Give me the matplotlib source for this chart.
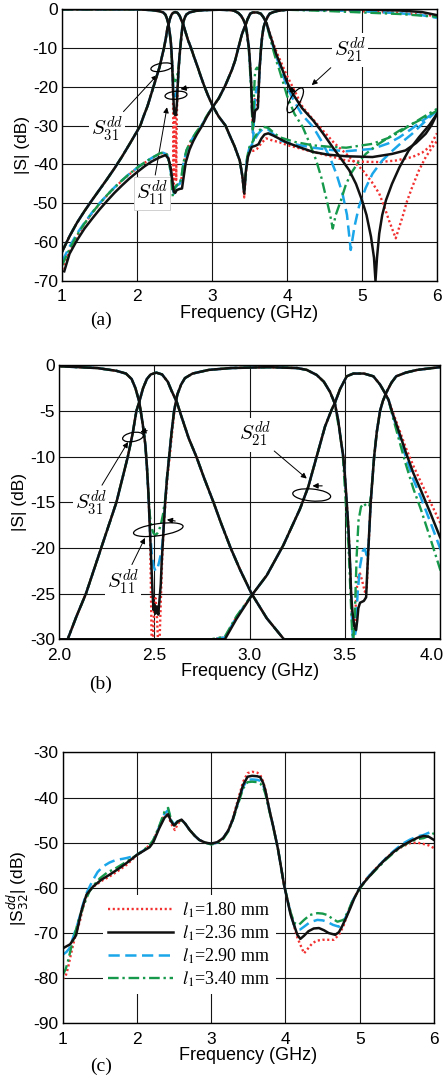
"""Balanced diplexer S-parameters for four l1 values: (a) wideband, (b) zoom, (c) |S32|."""
import numpy as np
import matplotlib
matplotlib.use("Agg")
import matplotlib.pyplot as plt
from matplotlib.patches import Ellipse
from matplotlib.transforms import ScaledTranslation

plt.rcParams["font.family"] = ["Liberation Sans", "DejaVu Sans"]
plt.rcParams["mathtext.fontset"] = "cm"
plt.rcParams["axes.unicode_minus"] = False

# --- |S11| pieces (GHz, dB) ---
s11_start = [(1.0, -0.1), (1.5, -0.1), (2.0, -0.1), (2.2, -0.3), (2.3, -0.6), (2.35, -0.9),
             (2.38, -1.5), (2.4, -2.5), (2.42, -4.0), (2.438, -6.4), (2.452, -8.7), (2.46, -11)]
s11_notch1_red = [(2.468, -14), (2.476, -18), (2.481, -24), (2.485, -33), (2.488, -45), (2.492, -34),
                  (2.498, -27), (2.505, -25.5), (2.512, -27), (2.518, -33), (2.523, -44), (2.527, -33),
                  (2.533, -26), (2.54, -21.5), (2.549, -17.5), (2.558, -15), (2.568, -12.3),
                  (2.58, -10), (2.593, -7.3), (2.605, -5)]
s11_notch1_black = [(2.468, -14), (2.476, -18), (2.483, -21.5), (2.49, -25), (2.495, -26.8),
                    (2.5, -26.2), (2.505, -27.2), (2.512, -26.4), (2.52, -27.3), (2.527, -25.5),
                    (2.533, -24), (2.538, -21.5), (2.542, -20), (2.549, -17.5), (2.556, -15),
                    (2.566, -12.3), (2.577, -10), (2.59, -7.3), (2.603, -5)]
s11_notch1_blue = [(2.468, -14), (2.476, -18), (2.485, -20.5), (2.495, -22), (2.505, -22.5),
                   (2.515, -22.3), (2.525, -21.5), (2.535, -20.5), (2.542, -19.5), (2.549, -17.5),
                   (2.556, -15), (2.566, -12.3), (2.577, -10), (2.59, -7.3), (2.603, -5)]
s11_notch1_green = [(2.468, -14), (2.476, -16.5), (2.485, -17.8), (2.495, -18.4), (2.505, -18.6),
                    (2.515, -18.4), (2.525, -18), (2.535, -17.3), (2.545, -16.3), (2.552, -15.2),
                    (2.558, -14.5), (2.566, -12.3), (2.577, -10), (2.59, -7.3), (2.603, -5)]
s11_mid = [(2.62, -3.2), (2.64, -2.1), (2.66, -1.4), (2.7, -0.9), (2.785, -0.5), (2.9, -0.3),
           (3.1, -0.2), (3.25, -0.3), (3.3, -0.5), (3.352, -1.05), (3.39, -1.8), (3.422, -2.9),
           (3.448, -4.2)]
s11_notch2_red = [(3.465, -6), (3.48, -8.3), (3.492, -10), (3.502, -12.5), (3.51, -15), (3.518, -17.5),
                  (3.524, -20), (3.533, -25), (3.54, -29), (3.545, -32), (3.552, -29), (3.56, -25),
                  (3.57, -23.2), (3.58, -22.8), (3.59, -23.5), (3.605, -24.8), (3.615, -24.5),
                  (3.622, -21), (3.63, -17.5), (3.64, -14), (3.65, -11), (3.66, -9)]
s11_notch2_black = [(3.465, -6), (3.48, -8.3), (3.492, -10), (3.502, -12.5), (3.51, -15),
                    (3.518, -17.5), (3.524, -20), (3.529, -22.5), (3.533, -25), (3.54, -27),
                    (3.55, -28.6), (3.559, -29), (3.565, -28), (3.571, -26.6), (3.58, -26),
                    (3.6, -25.8), (3.612, -25.4), (3.617, -23), (3.624, -20), (3.63, -17.5),
                    (3.636, -15), (3.645, -12.5), (3.654, -10)]
s11_notch2_blue = [(3.465, -6), (3.48, -8.3), (3.492, -10), (3.51, -15), (3.524, -20), (3.533, -25),
                   (3.542, -30), (3.55, -34), (3.558, -29), (3.567, -25), (3.58, -22), (3.595, -20.3),
                   (3.605, -20.1), (3.615, -20.8), (3.624, -20), (3.63, -17.5), (3.636, -15),
                   (3.645, -12.5), (3.654, -10)]
s11_notch2_green = [(3.462, -6), (3.475, -7.5), (3.49, -10), (3.505, -15), (3.52, -20), (3.53, -25),
                    (3.538, -29), (3.545, -31), (3.553, -27), (3.562, -21), (3.572, -17),
                    (3.585, -15.5), (3.6, -15.1), (3.615, -15.5), (3.628, -15.5), (3.636, -14.5),
                    (3.645, -12.5), (3.654, -10)]
s11_end = [(3.668, -7.3), (3.685, -5), (3.7, -3.9), (3.72, -2.9), (3.745, -1.9), (3.77, -1.2),
           (3.82, -0.8), (3.88, -0.5), (4.0, -0.2)]
s11_tail_red = [(4.5, -0.3), (5.0, -0.6), (5.5, -1.0), (6.0, -1.8)]
s11_tail_black = [(4.5, -0.1), (5.0, -0.15), (5.5, -0.4), (5.8, -0.8), (6.0, -1.6)]
s11_tail_blue = [(4.5, -0.3), (5.0, -0.6), (5.5, -1.1), (5.8, -1.6), (6.0, -2.3)]
s11_tail_green = [(4.5, -0.5), (5.0, -0.9), (5.5, -1.3), (6.0, -2.0)]

# --- |S21| pieces ---
s21_low_red = [(1.0, -67), (1.1, -62.3), (1.2, -58.5), (1.3, -55.3), (1.4, -52.6), (1.5, -50.2),
               (1.6, -48), (1.7, -46), (1.8, -44.2), (1.9, -42.5), (2.0, -41), (2.1, -39.6),
               (2.2, -38.4), (2.3, -37.3), (2.35, -37), (2.4, -37.4), (2.43, -39), (2.46, -42.5),
               (2.48, -45.5), (2.495, -46.5), (2.51, -45.5), (2.54, -45.2), (2.57, -45), (2.59, -44),
               (2.62, -40), (2.66, -36.5), (2.72, -34), (2.8, -31.5), (2.87, -29.8), (2.93, -27.6)]
s21_low_black = [(1.03, -67.5), (1.1, -63), (1.2, -59.5), (1.3, -56.5), (1.4, -54), (1.5, -51.6),
                 (1.6, -49.4), (1.7, -47.3), (1.8, -45.4), (1.9, -43.6), (2.0, -42), (2.1, -40.5),
                 (2.2, -39.2), (2.3, -38.2), (2.38, -37.6), (2.42, -38.5), (2.45, -41), (2.47, -44),
                 (2.49, -47), (2.51, -47.3), (2.53, -46.6), (2.57, -46.3), (2.6, -46.2), (2.62, -43.5),
                 (2.65, -39.5), (2.7, -36.2), (2.75, -34), (2.8, -32.2), (2.87, -30), (2.93, -27.8)]
s21_low_blue = [(1.0, -65), (1.1, -61.2), (1.2, -57.8), (1.3, -55), (1.4, -52.4), (1.5, -50),
                (1.6, -47.9), (1.7, -45.9), (1.8, -44.1), (1.9, -42.4), (2.0, -40.9), (2.1, -39.5),
                (2.2, -38.3), (2.3, -37.3), (2.35, -37), (2.4, -37.5), (2.43, -39.5), (2.46, -43),
                (2.48, -46.5), (2.495, -47.5), (2.51, -46), (2.54, -45.3), (2.57, -45), (2.59, -43.8),
                (2.62, -39.8), (2.66, -36.5), (2.72, -34), (2.8, -31.5), (2.87, -29.8), (2.93, -27.6)]
s21_low_green = [(1.0, -66), (1.1, -61.8), (1.2, -58.2), (1.3, -55.2), (1.4, -52.5), (1.5, -50.1),
                 (1.6, -47.9), (1.7, -45.9), (1.8, -44.1), (1.9, -42.4), (2.0, -40.9), (2.1, -39.5),
                 (2.2, -38.3), (2.3, -37.2), (2.35, -36.9), (2.4, -37.5), (2.43, -39.5), (2.46, -44),
                 (2.478, -48.3), (2.49, -47.5), (2.51, -45.8), (2.54, -45.2), (2.57, -45), (2.59, -43.5),
                 (2.62, -39.5), (2.66, -36.3), (2.72, -33.8), (2.8, -31.4), (2.87, -29.7), (2.93, -27.5)]
s21_mid = [(3.014, -25.1), (3.09, -23), (3.177, -19.7), (3.265, -15.7), (3.308, -13.3), (3.352, -10),
           (3.396, -6.7), (3.43, -4.9), (3.448, -4.1), (3.475, -2.6), (3.51, -1.2), (3.545, -0.9),
           (3.6, -0.9), (3.65, -1.2), (3.685, -2.1), (3.71, -3), (3.73, -3.8)]
s21_tail_red = [(3.75, -5.0), (3.78, -6.7), (3.82, -9), (3.86, -11), (3.9, -12.8), (3.95, -15),
                (4.0, -17.2), (4.1, -21), (4.21, -25.3), (4.35, -28.5), (4.48, -31.3), (4.63, -34.5),
                (4.79, -37.3), (5.01, -41.5), (5.13, -44.5), (5.23, -47.5), (5.3, -51), (5.36, -54.4),
                (5.45, -59), (5.54, -53.5), (5.6, -49.5), (5.67, -45.8), (5.76, -41.5), (5.85, -38.1),
                (5.93, -35.8), (6.0, -34)]
s21_tail_black = [(3.75, -5.2), (3.78, -7), (3.82, -9.5), (3.86, -11.8), (3.9, -13.7), (3.95, -16.2),
                  (4.0, -18.8), (4.08, -21.9), (4.2, -25.5), (4.35, -28.7), (4.48, -32), (4.61, -35.6),
                  (4.72, -38.5), (4.83, -41.5), (4.92, -45), (5.0, -49.2), (5.06, -53), (5.12, -58.6),
                  (5.16, -64), (5.18, -70), (5.2, -64), (5.23, -57.8), (5.27, -53), (5.32, -49.2),
                  (5.4, -45), (5.5, -40.7), (5.62, -36.5), (5.76, -33), (5.9, -29.8), (6.0, -27)]
s21_tail_blue = [(3.75, -5.3), (3.78, -7.3), (3.82, -10), (3.86, -12.5), (3.9, -14.5), (3.95, -17.2),
                 (4.0, -20), (4.08, -23.2), (4.2, -27.2), (4.35, -30.4), (4.46, -34), (4.57, -38.1),
                 (4.66, -42.5), (4.74, -47.5), (4.8, -53), (4.85, -62), (4.9, -56), (4.96, -50.8),
                 (5.05, -46), (5.14, -42.4), (5.27, -39), (5.41, -36.4), (5.55, -34), (5.67, -32.1),
                 (5.82, -29.3), (6.0, -26.2)]
s21_tail_green = [(3.75, -5.5), (3.78, -7.8), (3.82, -10.8), (3.86, -13.5), (3.9, -15.8), (3.95, -19),
                  (4.0, -22.3), (4.1, -27), (4.21, -30.4), (4.3, -34.5), (4.39, -39), (4.46, -43.5),
                  (4.52, -48.4), (4.57, -52.5), (4.61, -56.5), (4.65, -53), (4.72, -49.2), (4.78, -45.5),
                  (4.85, -42.4), (4.95, -39.5), (5.05, -37.3), (5.2, -35), (5.36, -33), (5.5, -31.3),
                  (5.67, -29.6), (5.85, -27.8), (6.0, -26.2)]

# --- |S31| pieces ---
s31_low = [(1.0, -62.5), (1.1, -58.5), (1.2, -55), (1.3, -52), (1.4, -49.2), (1.5, -46.5), (1.6, -43.8),
           (1.7, -41), (1.8, -38), (1.9, -34.8), (2.0, -31.5), (2.044, -30), (2.09, -27.5), (2.14, -25),
           (2.18, -22.5), (2.22, -20), (2.26, -17.5), (2.3, -15), (2.33, -12.5), (2.36, -10),
           (2.385, -7.5), (2.405, -5), (2.42, -4), (2.44, -2.5), (2.46, -1.5), (2.48, -1.0), (2.51, -0.8),
           (2.54, -1.0), (2.57, -1.8), (2.59, -2.8), (2.617, -4), (2.64, -5.5), (2.68, -8), (2.72, -10),
           (2.76, -12.3), (2.81, -15), (2.85, -17.3), (2.9, -20), (2.95, -22.4), (3.01, -25),
           (3.09, -27.7), (3.18, -30), (3.24, -32.7), (3.3, -35.3), (3.37, -39), (3.405, -43)]
s31_tail_red = [(3.43, -48.5), (3.45, -43), (3.47, -38.5), (3.5, -36.5), (3.55, -36.5), (3.6, -36),
                (3.66, -34.5), (3.72, -33.3), (3.8, -33.8), (3.9, -34.3), (4.0, -35), (4.35, -36.8),
                (4.6, -38), (4.79, -39), (5.0, -39.3), (5.23, -39.4), (5.45, -39), (5.67, -38.1),
                (5.8, -37), (5.9, -35.5), (6.0, -32)]
s31_tail_black = [(3.43, -47.5), (3.45, -42), (3.48, -38), (3.53, -35.5), (3.58, -35.2), (3.62, -34.8),
                  (3.66, -33.3), (3.7, -32.3), (3.75, -32), (3.82, -32.6), (3.9, -33.4), (4.0, -34.4),
                  (4.2, -35.8), (4.35, -36.8), (4.55, -37.5), (4.79, -37.9), (5.14, -38.1), (5.4, -37.3),
                  (5.58, -36.4), (5.72, -34.5), (5.85, -32.1), (5.93, -29.8), (6.0, -27)]
s31_tail_blue = [(3.43, -47), (3.45, -42), (3.47, -38), (3.5, -35.7), (3.53, -35), (3.57, -33.5),
                 (3.62, -32), (3.68, -30.8), (3.75, -31), (3.82, -32.3), (3.9, -33.8), (4.1, -34.8),
                 (4.35, -35.7), (4.6, -36.3), (4.79, -36.6), (5.14, -36), (5.35, -34.6), (5.5, -33),
                 (5.65, -31), (5.81, -28.7), (6.0, -26.2)]
s31_tail_green = [(3.43, -47), (3.45, -42), (3.47, -38), (3.5, -35.5), (3.53, -34.6), (3.57, -33),
                  (3.62, -31.5), (3.68, -30.3), (3.75, -30.6), (3.82, -31.8), (3.9, -33), (4.1, -34.2),
                  (4.35, -35.1), (4.6, -35.5), (4.79, -35.7), (5.14, -34.7), (5.35, -33.2), (5.5, -31.7),
                  (5.65, -29.8), (5.81, -27.9), (6.0, -25.7)]

# --- |S32| (panel c) ---
s32_red = [(1.0, -80.2), (1.04, -79.5), (1.07, -77.8), (1.1, -75.5), (1.14, -72.6), (1.18, -70),
           (1.23, -67.5), (1.27, -64.5), (1.32, -61.9), (1.38, -60.2), (1.45, -59.3), (1.54, -58.3),
           (1.63, -57.5), (1.75, -56.2), (1.86, -54.9), (2.0, -52.8), (2.1, -51.6), (2.17, -50.5),
           (2.22, -49.5), (2.3, -46.5), (2.36, -44.3), (2.41, -43.5), (2.46, -45.8), (2.51, -47.2),
           (2.55, -45.8), (2.6, -45), (2.65, -45.8), (2.71, -47.2), (2.78, -48.5), (2.84, -49.4),
           (2.92, -50), (3.0, -50.3), (3.08, -50), (3.16, -49), (3.23, -47.2), (3.29, -44.6),
           (3.36, -40.5), (3.43, -36.5), (3.49, -34.6), (3.55, -34.3), (3.62, -34.5), (3.66, -35),
           (3.7, -36.5), (3.73, -38.3), (3.78, -42.5), (3.84, -46.8), (3.9, -51.5), (3.98, -59.3),
           (4.07, -65.5), (4.11, -68.2), (4.16, -71), (4.2, -72.6), (4.25, -74.5), (4.3, -73.5),
           (4.36, -72.3), (4.42, -71.7), (4.5, -71.5), (4.58, -71.5), (4.65, -71.5), (4.72, -70.4),
           (4.78, -68.5), (4.83, -66), (4.9, -63), (5.0, -60), (5.1, -57.8), (5.23, -55.5),
           (5.35, -53.5), (5.46, -52), (5.57, -50.9), (5.68, -50.1), (5.78, -50), (5.86, -50.3),
           (5.93, -50.6), (6.0, -51.2)]
s32_black = [(1.0, -73.4), (1.1, -72.5), (1.18, -70.5), (1.25, -65.2), (1.32, -61.5), (1.41, -59.7),
             (1.52, -58.2), (1.63, -57.1), (1.75, -55.8), (1.86, -54.5), (2.0, -52.7), (2.1, -51.7),
             (2.17, -51), (2.22, -49.9), (2.3, -46.8), (2.37, -44.5), (2.42, -43.7), (2.46, -45.3),
             (2.5, -46.2), (2.55, -45.3), (2.6, -44.9), (2.65, -45.8), (2.71, -47.2), (2.78, -48.5),
             (2.84, -49.4), (2.92, -50), (3.0, -50.2), (3.08, -49.9), (3.16, -49), (3.23, -47.3),
             (3.29, -44.9), (3.36, -41), (3.43, -37.2), (3.49, -35.4), (3.55, -35.2), (3.62, -35.3),
             (3.66, -35.5), (3.7, -36.8), (3.73, -38.5), (3.78, -42.5), (3.84, -46.8), (3.9, -51.5),
             (3.98, -59.3), (4.07, -66), (4.16, -70.4), (4.2, -71.3), (4.25, -70.6), (4.31, -69.6),
             (4.38, -69), (4.45, -68.9), (4.52, -69.4), (4.58, -70), (4.67, -70.4), (4.72, -69.8),
             (4.76, -68.6), (4.82, -66.5), (4.87, -64.6), (4.93, -62.2), (5.0, -60), (5.1, -58),
             (5.23, -55.6), (5.35, -53.6), (5.46, -52), (5.57, -50.7), (5.68, -49.7), (5.78, -48.9),
             (5.86, -48.5), (5.93, -48.7), (6.0, -49.4)]
s32_blue = [(1.0, -74.8), (1.05, -74.2), (1.09, -73.4), (1.15, -70.5), (1.21, -67.5), (1.27, -63.8),
            (1.32, -61.2), (1.37, -59.5), (1.41, -58.2), (1.47, -56.5), (1.54, -55.3), (1.63, -54.4),
            (1.72, -53.8), (1.8, -53.6), (1.86, -53.4), (1.93, -53.1), (2.0, -52.7), (2.1, -51.6),
            (2.17, -50.7), (2.22, -49.6), (2.3, -46.5), (2.37, -43.6), (2.42, -42.8), (2.46, -45),
            (2.5, -46), (2.55, -45.2), (2.6, -44.9), (2.65, -45.8), (2.71, -47.2), (2.78, -48.5),
            (2.84, -49.4), (2.92, -50), (3.0, -50.3), (3.08, -50), (3.16, -49), (3.23, -47.3),
            (3.29, -44.9), (3.36, -41.2), (3.43, -37.6), (3.49, -36.1), (3.55, -36), (3.62, -36.1),
            (3.66, -36.3), (3.7, -37.3), (3.73, -38.8), (3.78, -42.5), (3.84, -46.8), (3.9, -51.5),
            (3.98, -59.3), (4.07, -65.8), (4.12, -68.5), (4.16, -69.3), (4.2, -69.2), (4.25, -68.6),
            (4.33, -67.6), (4.43, -67.1), (4.5, -67.2), (4.56, -67.5), (4.64, -68.2), (4.72, -68.6),
            (4.78, -67.5), (4.84, -65.5), (4.9, -63), (5.0, -60), (5.1, -57.8), (5.23, -55.5),
            (5.35, -53.5), (5.46, -51.8), (5.57, -50.3), (5.68, -49.3), (5.78, -48.6), (5.86, -48.3),
            (5.93, -47.8), (6.0, -47.2)]
s32_green = [(1.0, -79.3), (1.04, -78), (1.07, -76.3), (1.11, -73.5), (1.16, -70.4), (1.21, -67.3),
             (1.27, -64.5), (1.32, -62.3), (1.36, -60.8), (1.43, -59.2), (1.5, -57.9), (1.6, -56.6),
             (1.72, -55.6), (1.86, -54.2), (2.0, -52.7), (2.1, -51.5), (2.17, -50.5), (2.22, -49.4),
             (2.3, -46.3), (2.37, -43.2), (2.42, -42.3), (2.46, -45), (2.5, -46.3), (2.55, -45.3),
             (2.6, -45), (2.65, -45.8), (2.71, -47.2), (2.78, -48.5), (2.84, -49.4), (2.92, -50),
             (3.0, -50.4), (3.08, -50.1), (3.16, -49.2), (3.23, -47.5), (3.29, -45), (3.36, -41.5),
             (3.43, -38), (3.49, -36.6), (3.55, -36.5), (3.62, -36.6), (3.66, -36.9), (3.7, -37.8),
             (3.73, -39.2), (3.78, -42.8), (3.84, -47), (3.9, -51.5), (3.98, -59.3), (4.07, -65.5),
             (4.12, -67.8), (4.18, -68.2), (4.25, -67.1), (4.33, -66), (4.43, -65.6), (4.5, -65.7),
             (4.56, -66), (4.63, -66.8), (4.7, -67.5), (4.78, -67.1), (4.84, -65.3), (4.9, -63),
             (5.0, -60.2), (5.1, -58), (5.23, -55.8), (5.35, -53.8), (5.46, -52.2), (5.57, -50.8),
             (5.68, -49.8), (5.78, -49.2), (5.86, -49), (5.93, -48.5), (6.0, -47.9)]


def pts(*parts):
    arr = np.array([p for part in parts for p in part])
    return arr[:, 0], arr[:, 1]


s11 = {"1.80": pts(s11_start, s11_notch1_red, s11_mid, s11_notch2_red, s11_end, s11_tail_red),
       "2.36": pts(s11_start, s11_notch1_black, s11_mid, s11_notch2_black, s11_end, s11_tail_black),
       "2.90": pts(s11_start, s11_notch1_blue, s11_mid, s11_notch2_blue, s11_end, s11_tail_blue),
       "3.40": pts(s11_start, s11_notch1_green, s11_mid, s11_notch2_green, s11_end, s11_tail_green)}
s21 = {"1.80": pts(s21_low_red, s21_mid, s21_tail_red),
       "2.36": pts(s21_low_black, s21_mid, s21_tail_black),
       "2.90": pts(s21_low_blue, s21_mid, s21_tail_blue),
       "3.40": pts(s21_low_green, s21_mid, s21_tail_green)}
s31 = {"1.80": pts(s31_low, s31_tail_red),
       "2.36": pts(s31_low, s31_tail_black),
       "2.90": pts(s31_low, s31_tail_blue),
       "3.40": pts(s31_low, s31_tail_green)}
s32 = {"1.80": pts(s32_red), "2.36": pts(s32_black), "2.90": pts(s32_blue), "3.40": pts(s32_green)}

style = {
    "1.80": dict(color="#f23030", lw=1.7, ls=(0, (0.9, 1.1))),
    "2.36": dict(color="#111111", lw=1.8, ls="-"),
    "2.90": dict(color="#1ba6ea", lw=1.8, ls=(0, (4.5, 2.2))),
    "3.40": dict(color="#17994b", lw=1.7, ls=(0, (4.5, 1.6, 1.0, 1.6))),
}
draw_order = ["1.80", "2.90", "3.40", "2.36"]
legend_order = ["1.80", "2.36", "2.90", "3.40"]

fig = plt.figure(figsize=(4.47, 10.78), dpi=100)
ax_a = fig.add_axes([0.1387, 0.7393, 0.8389, 0.2524])
ax_b = fig.add_axes([0.1327, 0.4070, 0.8516, 0.2541])
ax_c = fig.add_axes([0.1403, 0.0507, 0.8306, 0.2514])


def dress(ax, xlim, ylim, xticks, yticks, xfmt, ylabel):
    ax.set_xlim(*xlim)
    ax.set_ylim(*ylim)
    ax.set_xticks(xticks)
    ax.set_yticks(yticks)
    ax.set_xticklabels([xfmt.format(t) for t in xticks])
    ax.set_yticklabels([f"{t:g}" for t in yticks])
    ax.grid(True, color="#151515", lw=0.8)
    ax.set_axisbelow(True)
    ax.tick_params(axis="x", length=0, pad=6, labelsize=12.5)
    ax.tick_params(axis="y", length=0, pad=3, labelsize=12.5)
    for sp in ax.spines.values():
        sp.set_linewidth(1.0)
    ax.set_xlabel("Frequency (GHz)", fontsize=13, labelpad=0.5)
    ax.set_ylabel(ylabel, fontsize=12.5, labelpad=2)


def ring(ax, xy, w, h, angle):
    tr = fig.dpi_scale_trans + ScaledTranslation(xy[0], xy[1], ax.transData)
    ax.add_artist(Ellipse((0, 0), w / 100, h / 100, angle=angle, fill=False,
                          ec="k", lw=0.9, transform=tr, zorder=4))


def head(ax, tip, dx, dy):
    ax.annotate("", xy=tip, xytext=(dx, dy), textcoords="offset points",
                arrowprops=dict(arrowstyle="-|>", color="k", lw=0.8,
                                mutation_scale=8, shrinkA=0, shrinkB=0), zorder=4)


def tag(ax, text, xy_text, xy_tip, boxed=False):
    ax.annotate(text, xy=xy_tip, xytext=xy_text, ha="center", va="center", fontsize=15,
                bbox=dict(boxstyle="square,pad=0.1", fc="white",
                          ec="#d0d0d0" if boxed else "none", lw=0.7),
                arrowprops=dict(arrowstyle="-|>", color="k", lw=0.7, mutation_scale=8,
                                shrinkA=1, shrinkB=0), zorder=1.8)


# --- (a) 1-6 GHz ---
for v in draw_order:
    for s in (s11, s21, s31):
        f, d = s[v]
        ax_a.plot(f, d, **style[v])
dress(ax_a, (1, 6), (-70, 0), [1, 2, 3, 4, 5, 6], list(range(0, -71, -10)), "{:g}", "|S| (dB)")
tag(ax_a, r"$S^{dd}_{31}$", (1.6, -31), (2.27, -17))
ring(ax_a, (2.33, -15), 22, 8, 10)
tag(ax_a, r"$S^{dd}_{11}$", (2.2, -47.5), (2.4, -25.3), boxed=True)
ring(ax_a, (2.52, -22.2), 22, 8, 5)
head(ax_a, (2.58, -20.6), 6, 1)
tag(ax_a, r"$S^{dd}_{21}$", (4.84, -10.6), (4.33, -19.6))
ring(ax_a, (4.11, -23.5), 28, 10, 60)
head(ax_a, (4.12, -21.3), -5, 2)

# --- (b) 2-4 GHz, values floored at the axis bottom ---
for v in draw_order:
    for s in (s11, s21, s31):
        f, d = s[v]
        ax_b.plot(f, np.clip(d, -30, 0), **style[v])
dress(ax_b, (2, 4), (-30, 0), [2.0, 2.5, 3.0, 3.5, 4.0], list(range(0, -31, -5)), "{:.1f}", "|S| (dB)")
# keep the last frequency label inside the figure edge
last = ax_b.get_xticklabels()[-1]
last.set_transform(last.get_transform() + ScaledTranslation(-8 / 100, 0, fig.dpi_scale_trans))
tag(ax_b, r"$S^{dd}_{31}$", (2.167, -15.1), (2.361, -8.4))
ring(ax_b, (2.387, -7.85), 21, 9, 10)
head(ax_b, (2.425, -7.3), 5, 1)
tag(ax_b, r"$S^{dd}_{11}$", (2.335, -23.8), (2.45, -18.9))
ring(ax_b, (2.52, -18.0), 50, 12, 8)
head(ax_b, (2.565, -16.9), 6, -1)
tag(ax_b, r"$S^{dd}_{21}$", (3.028, -7.6), (3.3, -12.4))
ring(ax_b, (3.326, -14.2), 38, 12, -5)
head(ax_b, (3.33, -13.2), 7, 0)

# --- (c) |S32| ---
lines = {}
for v in draw_order:
    f, d = s32[v]
    lines[v], = ax_c.plot(f, d, **style[v])
dress(ax_c, (1, 6), (-90, -30), [1, 2, 3, 4, 5, 6], list(range(-30, -91, -10)), "{:g}",
      r"|S$^{dd}_{32}$| (dB)")
ax_c.yaxis.label.set_math_fontfamily("dejavusans")
leg = ax_c.legend([lines[v] for v in legend_order],
                  [rf"$l_1$={v} mm" for v in legend_order],
                  loc="upper left", bbox_to_anchor=(0.1085, 0.4734), frameon=True,
                  facecolor="white", edgecolor="none", framealpha=1, fancybox=False,
                  borderpad=0.3, borderaxespad=0, handlelength=3.6, handletextpad=0.5,
                  labelspacing=0.2, prop=dict(family="Liberation Serif", size=13))
for t in leg.get_texts():
    t.set_math_fontfamily("stix")

for label, y in (("(a)", 320), ("(b)", 684), ("(c)", 1066)):
    fig.text(101 / 447, 1 - y / 1078, label, family="Liberation Serif", fontsize=14,
             ha="center", va="center")

fig.savefig("out.png", dpi=100)
